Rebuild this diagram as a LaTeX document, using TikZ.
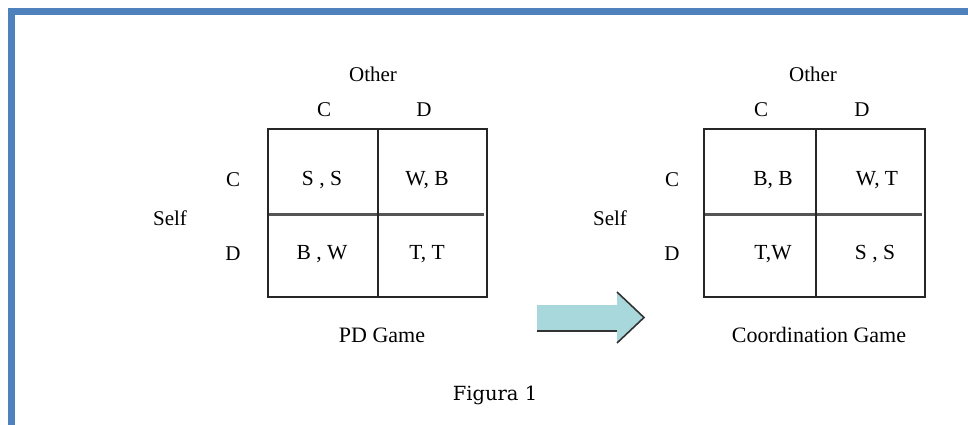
\documentclass[tikz,border=0pt]{standalone}
\usepackage{fontspec}
\setmainfont{Liberation Serif}
\newfontfamily\capfont{DejaVu Serif}
\definecolor{frameblue}{HTML}{4F81BD}
\definecolor{arrowfill}{HTML}{A8D8DB}
\definecolor{divgray}{HTML}{555555}
\begin{document}
\begin{tikzpicture}[x=1pt,y=-1pt,
  lbl/.style={font=\fontsize{21}{24}\selectfont, inner sep=0pt, anchor=center},
  title/.style={font=\fontsize{22}{26}\selectfont, inner sep=0pt, anchor=center},
  celltxt/.style={font=\fontsize{21.5}{24}\selectfont, inner sep=0pt, anchor=center},
  outer/.style={draw=black!85, line width=2pt},
  vdiv/.style={draw=black!85, line width=1.6pt},
  hdiv/.style={draw=divgray, line width=3pt}]
\useasboundingbox (0,0) rectangle (968,425);
% frame
\draw[frameblue, line width=7pt] (11.5,430) -- (11.5,11.5) -- (975,11.5);
% ---------- PD game ----------
\coordinate (pdTL) at (268,129);
\coordinate (pdBR) at (487,297);
\draw[hdiv] (268,214) -- (484,214);
\draw[vdiv] (378,129) -- (378,297);
\draw[outer] (pdTL) rectangle (pdBR);
\node[lbl] (pdOther) at (373,74) {Other};
\node[lbl] (pdColC) at (324,110) {C};
\node[lbl] (pdColD) at (424,110) {D};
\node[lbl] (pdRowC) at (233,180) {C};
\node[lbl] (pdRowD) at (233,254) {D};
\node[lbl] (pdSelf) at (170,218) {Self};
\node[celltxt] (pdCC) at (322,180) {S , S};
\node[celltxt] (pdCD) at (427,180) {W, B};
\node[celltxt] (pdDC) at (322,254) {B , W};
\node[celltxt] (pdDD) at (427,254) {T, T};
\node[title] (pdTitle) at (382,335) {PD Game};
% ---------- Coordination game ----------
\coordinate (cgTL) at (704,129);
\coordinate (cgBR) at (925,297);
\draw[hdiv] (704,214) -- (922,214);
\draw[vdiv] (816,129) -- (816,297);
\draw[outer] (cgTL) rectangle (cgBR);
\node[lbl] (cgOther) at (813,74) {Other};
\node[lbl] (cgColC) at (761,110) {C};
\node[lbl] (cgColD) at (862,110) {D};
\node[lbl] (cgRowC) at (672,180) {C};
\node[lbl] (cgRowD) at (672,254) {D};
\node[lbl] (cgSelf) at (610,218) {Self};
\node[celltxt] (cgCC) at (773,180) {B, B};
\node[celltxt] (cgCD) at (877,180) {W, T};
\node[celltxt] (cgDC) at (773,254) {T,W};
\node[celltxt] (cgDD) at (875,254) {S , S};
\node[title] (cgTitle) at (819,335) {Coordination Game};
% ---------- block arrow ----------
\coordinate (aSL) at (537,305);
\coordinate (aST) at (617,305);
\coordinate (aHT) at (617,292);
\coordinate (aTip) at (644,317.5);
\coordinate (aHB) at (617,343);
\coordinate (aSB) at (617,331);
\coordinate (aSLB) at (537,331);
\fill[arrowfill] (aSL) -- (aST) -- (aHT) -- (aTip) -- (aHB) -- (aSB) -- (aSLB) -- cycle;
\draw[black!80, line width=1.6pt, line join=miter] (aHT) -- (aTip) -- (aHB);
\draw[black!80, line width=1.6pt] (aSLB) -- (aSB);
% caption
\node[font=\capfont\fontsize{19.5}{22}\selectfont, inner sep=0pt] (caption) at (495,395) {Figura 1};
\end{tikzpicture}
\end{document}
